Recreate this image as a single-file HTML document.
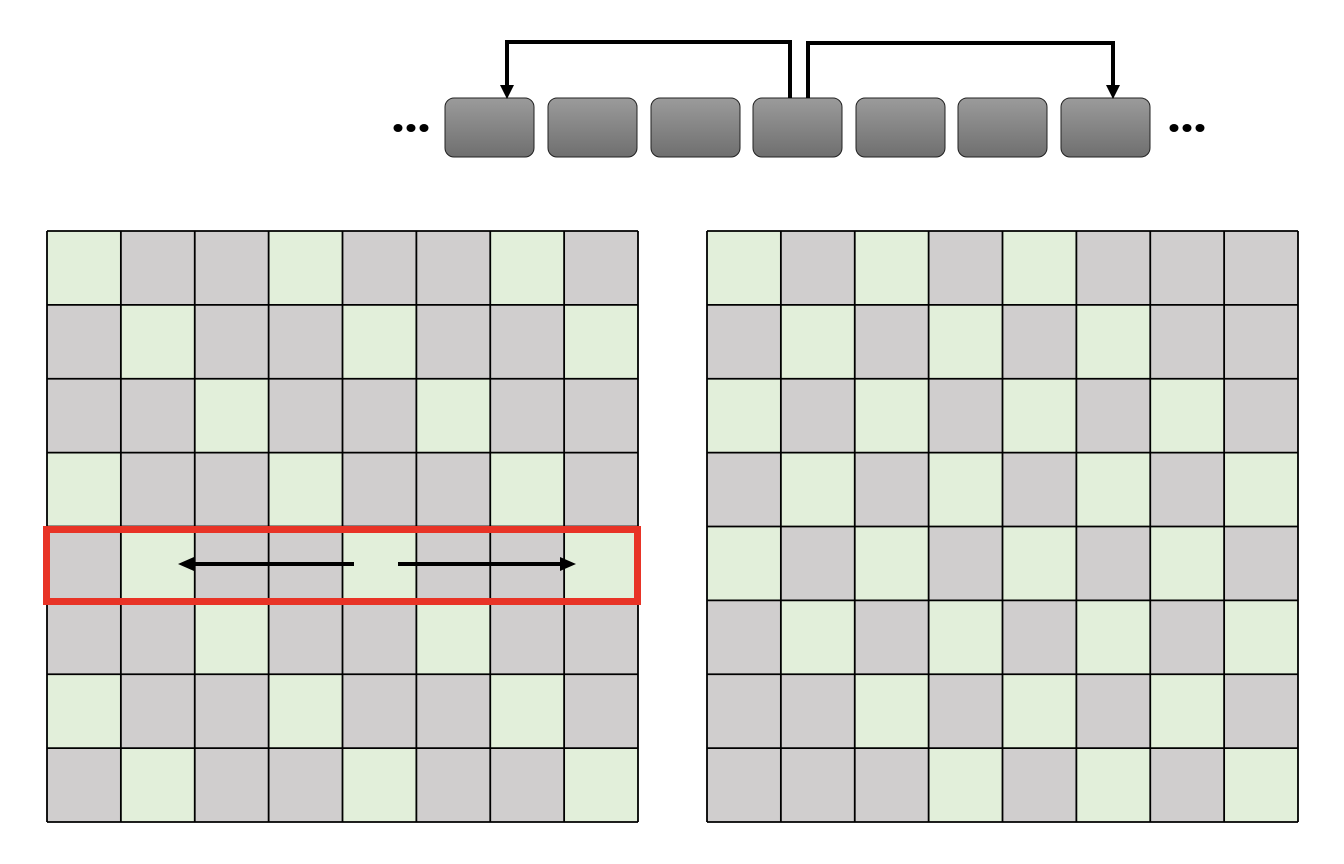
<!DOCTYPE html>
<html><head><style>html,body{margin:0;padding:0;background:#fff;width:1344px;height:864px;overflow:hidden}</style></head>
<body>
<svg width="1344" height="864" viewBox="0 0 1344 864" xmlns="http://www.w3.org/2000/svg">
<defs>
<linearGradient id="g" x1="0" y1="0" x2="0" y2="1"><stop offset="0" stop-color="#9b9b9b"/><stop offset="1" stop-color="#6f6f6f"/></linearGradient>
</defs>
<g transform="translate(47,231) scale(73.875)">
<rect x="0" y="0" width="8" height="8" fill="#d0cece"/>
<g fill="#e2efda">
<rect x="0" y="0" width="1" height="1"/><rect x="3" y="0" width="1" height="1"/><rect x="6" y="0" width="1" height="1"/>
<rect x="1" y="1" width="1" height="1"/><rect x="4" y="1" width="1" height="1"/><rect x="7" y="1" width="1" height="1"/>
<rect x="2" y="2" width="1" height="1"/><rect x="5" y="2" width="1" height="1"/>
<rect x="0" y="3" width="1" height="1"/><rect x="3" y="3" width="1" height="1"/><rect x="6" y="3" width="1" height="1"/>
<rect x="1" y="4" width="1" height="1"/><rect x="4" y="4" width="1" height="1"/><rect x="7" y="4" width="1" height="1"/>
<rect x="2" y="5" width="1" height="1"/><rect x="5" y="5" width="1" height="1"/>
<rect x="0" y="6" width="1" height="1"/><rect x="3" y="6" width="1" height="1"/><rect x="6" y="6" width="1" height="1"/>
<rect x="1" y="7" width="1" height="1"/><rect x="4" y="7" width="1" height="1"/><rect x="7" y="7" width="1" height="1"/>
</g>
<path d="M0 0V8M1 0V8M2 0V8M3 0V8M4 0V8M5 0V8M6 0V8M7 0V8M8 0V8M0 0H8M0 1H8M0 2H8M0 3H8M0 4H8M0 5H8M0 6H8M0 7H8M0 8H8" stroke="#000" stroke-width="1.8" vector-effect="non-scaling-stroke" fill="none"/>
</g>
<g transform="translate(707,231) scale(73.875)">
<rect x="0" y="0" width="8" height="8" fill="#d0cece"/>
<g fill="#e2efda">
<rect x="0" y="0" width="1" height="1"/><rect x="2" y="0" width="1" height="1"/><rect x="4" y="0" width="1" height="1"/>
<rect x="1" y="1" width="1" height="1"/><rect x="3" y="1" width="1" height="1"/><rect x="5" y="1" width="1" height="1"/>
<rect x="0" y="2" width="1" height="1"/><rect x="2" y="2" width="1" height="1"/><rect x="4" y="2" width="1" height="1"/><rect x="6" y="2" width="1" height="1"/>
<rect x="1" y="3" width="1" height="1"/><rect x="3" y="3" width="1" height="1"/><rect x="5" y="3" width="1" height="1"/><rect x="7" y="3" width="1" height="1"/>
<rect x="0" y="4" width="1" height="1"/><rect x="2" y="4" width="1" height="1"/><rect x="4" y="4" width="1" height="1"/><rect x="6" y="4" width="1" height="1"/>
<rect x="1" y="5" width="1" height="1"/><rect x="3" y="5" width="1" height="1"/><rect x="5" y="5" width="1" height="1"/><rect x="7" y="5" width="1" height="1"/>
<rect x="2" y="6" width="1" height="1"/><rect x="4" y="6" width="1" height="1"/><rect x="6" y="6" width="1" height="1"/>
<rect x="3" y="7" width="1" height="1"/><rect x="5" y="7" width="1" height="1"/><rect x="7" y="7" width="1" height="1"/>
</g>
<path d="M0 0V8M1 0V8M2 0V8M3 0V8M4 0V8M5 0V8M6 0V8M7 0V8M8 0V8M0 0H8M0 1H8M0 2H8M0 3H8M0 4H8M0 5H8M0 6H8M0 7H8M0 8H8" stroke="#000" stroke-width="1.8" vector-effect="non-scaling-stroke" fill="none"/>
</g>
<g fill="url(#g)" stroke="#222" stroke-width="1">
<rect x="445" y="98" width="89" height="59" rx="9"/>
<rect x="548" y="98" width="89" height="59" rx="9"/>
<rect x="651" y="98" width="89" height="59" rx="9"/>
<rect x="753" y="98" width="89" height="59" rx="9"/>
<rect x="856" y="98" width="89" height="59" rx="9"/>
<rect x="958" y="98" width="89" height="59" rx="9"/>
<rect x="1061" y="98" width="89" height="59" rx="9"/>
</g>
<g fill="#000">
<ellipse cx="398" cy="128" rx="4.5" ry="4"/><ellipse cx="411" cy="128" rx="4.5" ry="4"/><ellipse cx="424" cy="128" rx="4.5" ry="4"/>
<ellipse cx="1174" cy="128" rx="4.5" ry="4"/><ellipse cx="1187" cy="128" rx="4.5" ry="4"/><ellipse cx="1200" cy="128" rx="4.5" ry="4"/>
</g>
<g fill="none" stroke="#000" stroke-width="4">
<polyline points="790,98 790,42 507,42 507,86"/>
<polyline points="808,98 808,43 1113,43 1113,86"/>
</g>
<polygon points="500,85 514,85 507,99" fill="#000"/>
<polygon points="1106,85 1120,85 1113,99" fill="#000"/>
<rect x="46.5" y="529.5" width="591" height="72" fill="none" stroke="#e83326" stroke-width="7"/>
<line x1="354" y1="564" x2="192" y2="564" stroke="#000" stroke-width="4"/>
<polygon points="178,564 194,557 194,571" fill="#000"/>
<line x1="398" y1="564" x2="562" y2="564" stroke="#000" stroke-width="4"/>
<polygon points="576,564 560,557 560,571" fill="#000"/>
</svg>
</body></html>
